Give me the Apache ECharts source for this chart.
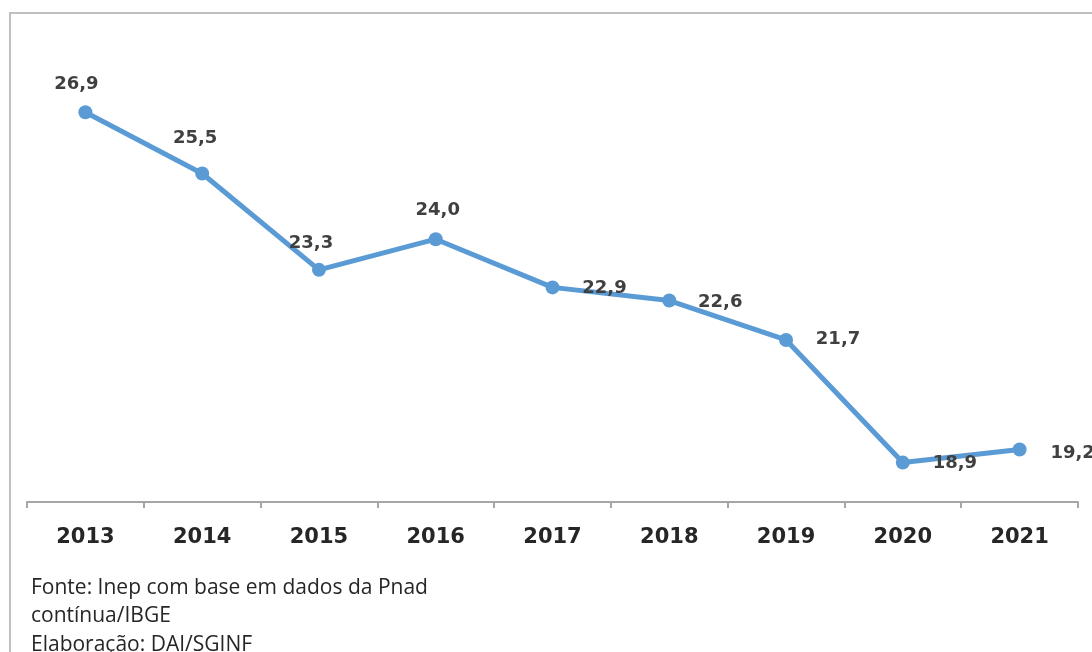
<!DOCTYPE html>
<html>
<head>
<meta charset="utf-8">
<script src="https://cdn.jsdelivr.net/npm/echarts@6/dist/echarts.min.js"></script>
<style>
  html, body { margin: 0; padding: 0; background: #ffffff; }
  #chart { width: 1092px; height: 652px; }
</style>
</head>
<body>
<div id="chart"></div>
<script>
// Anos da série
const years = ['2013', '2014', '2015', '2016', '2017', '2018', '2019', '2020', '2021'];
// Valores (%) por ano
const values = [26.9, 25.5, 23.3, 24.0, 22.9, 22.6, 21.7, 18.9, 19.2];
// Deslocamento de cada rótulo em relação ao ponto [dx, dy]
const labelOffsets = [[-9, -28], [-7, -35], [-8, -27], [2, -29], [52, 1], [51, 2], [52, -1], [52, 1], [53, 4]];
// Notas de rodapé
const footnotes = ['Fonte: Inep com base em dados da Pnad', 'contínua/IBGE', 'Elaboração: DAI/SGINF'];

const chart = echarts.init(document.getElementById('chart'), null, { renderer: 'canvas' });

const seriesData = values.map((v, i) => ({
  value: v,
  label: { offset: labelOffsets[i] }
}));

chart.setOption({
  animation: false,
  backgroundColor: '#ffffff',
  grid: { left: 27, right: 14, top: 64, bottom: 150 },
  xAxis: {
    type: 'category',
    data: years,
    boundaryGap: true,
    axisLine: { show: true, lineStyle: { color: '#a6a6a6', width: 2 } },
    axisTick: { show: true, length: 6, lineStyle: { color: '#a6a6a6', width: 2 } },
    axisLabel: {
      margin: 25,
      color: '#262626',
      fontFamily: 'DejaVu Sans',
      fontWeight: 'bold',
      fontSize: 21
    },
    splitLine: { show: false }
  },
  yAxis: {
    type: 'value',
    min: 18,
    max: 28,
    show: false
  },
  series: [{
    type: 'line',
    data: seriesData,
    symbol: 'circle',
    symbolSize: 14,
    lineStyle: { color: '#5b9bd5', width: 5 },
    itemStyle: { color: '#5b9bd5' },
    label: {
      show: true,
      position: 'inside',
      align: 'center',
      verticalAlign: 'middle',
      color: '#404040',
      fontFamily: 'DejaVu Sans',
      fontWeight: 'bold',
      fontSize: 18,
      formatter: p => p.value.toFixed(1).replace('.', ',')
    }
  }],
  graphic: [
    {
      type: 'polyline',
      shape: { points: [[10, 660], [10, 13], [1100, 13]] },
      style: { stroke: '#c0c0c0', lineWidth: 2, fill: null },
      silent: true
    },
    ...footnotes.map((t, i) => ({
      type: 'text',
      x: 31,
      y: 588 + i * 28.5,
      style: {
        text: t,
        fill: '#262626',
        font: '21px "Open Sans"',
        verticalAlign: 'middle'
      }
    }))
  ]
});
</script>
</body>
</html>
